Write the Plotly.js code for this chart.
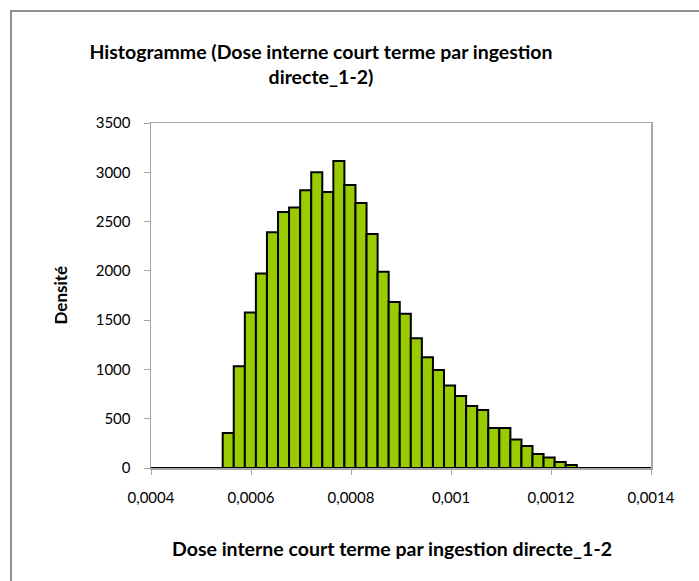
<!DOCTYPE html>
<html>
<head>
<meta charset="utf-8">
<script src="https://cdn.plot.ly/plotly-3.0.1.min.js"></script>
<style>
  html, body { margin: 0; padding: 0; background: #ffffff; }
  #chart { position: absolute; left: 0; top: 0; width: 699px; height: 581px; }
  #frame { position: absolute; left: 10px; top: 10px; width: 720px; height: 600px;
           border-left: 2px solid #8e8e8e; border-top: 2px solid #8e8e8e; pointer-events: none; }
</style>
</head>
<body>
<div id="chart"></div>
<div id="frame"></div>
<script>
// Histogram data
const binStart = 0.0005434;      // lower edge of first bin
const binWidth = 0.00002213;     // bin width
const densities = [355, 1033, 1578, 1974, 2391, 2597, 2644, 2817, 3000, 2800, 3115, 2871,
                   2688, 2373, 1990, 1683, 1564, 1317, 1124, 995, 837, 731, 630, 589,
                   406, 406, 288, 223, 142, 106, 61, 30];
const xRange = [0.0004, 0.0014];
const yRange = [0, 3500];
const titleText = "Histogramme (Dose interne court terme par ingestion<br>directe_1-2)";
const xTitleText = "Dose interne court terme par ingestion directe_1-2";
const yTitleText = "Densité";

const binCenters = densities.map((_, i) => binStart + (i + 0.5) * binWidth);

const font = "Lato, 'Open Sans', sans-serif";

const trace = {
  type: "bar",
  x: binCenters,
  y: densities,
  width: densities.map(() => binWidth),
  marker: { color: "#99cc00", line: { color: "#000000", width: 2 } },
  hoverinfo: "x+y"
};

const layout = {
  width: 699, height: 581,
  margin: { l: 151, r: 48, t: 123, b: 113, pad: 0 },
  paper_bgcolor: "#ffffff", plot_bgcolor: "#ffffff",
  separators: ", ",
  font: { family: font, size: 15, color: "#000000" },
  showlegend: false,
  bargap: 0,
  title: {
    text: titleText,
    font: { family: font, size: 19.5, color: "#000000", weight: "bold" },
    x: 321 / 699, xref: "container", xanchor: "center",
    y: 1 - 59 / 581, yref: "container", yanchor: "middle"
  },
  xaxis: {
    range: xRange, dtick: 0.0002, tick0: 0.0004, tickformat: ".4~f",
    showgrid: false, zeroline: false,
    showline: true, mirror: true, linecolor: "#a6a6a6", linewidth: 1.5,
    ticks: "outside", ticklen: 5, tickcolor: "#a6a6a6", tickwidth: 1,
    tickfont: { family: font, size: 15, color: "#000000" },
    ticklabelstandoff: 10
  },
  yaxis: {
    range: yRange, dtick: 500, tick0: 0,
    showgrid: false, zeroline: true, zerolinecolor: "#000000", zerolinewidth: 2,
    showline: true, mirror: true, linecolor: "#a6a6a6", linewidth: 1.5,
    ticks: "outside", ticklen: 6, tickcolor: "#a6a6a6", tickwidth: 1,
    tickfont: { family: font, size: 15, color: "#000000" },
    ticklabelstandoff: 10
  },
  annotations: [
    { text: xTitleText, xref: "paper", yref: "paper", x: (392 - 151) / 500, y: (468 - 548) / 345,
      xanchor: "center", yanchor: "middle", showarrow: false,
      font: { family: font, size: 19.5, color: "#000000", weight: "bold" } },
    { text: yTitleText, xref: "paper", yref: "paper", x: (60 - 151) / 500, y: 0.5,
      xanchor: "center", yanchor: "middle", showarrow: false, textangle: -90,
      font: { family: font, size: 17, color: "#000000", weight: "bold" } }
  ]
};

Plotly.newPlot("chart", [trace], layout, { displayModeBar: false, staticPlot: true });
</script>
</body>
</html>
